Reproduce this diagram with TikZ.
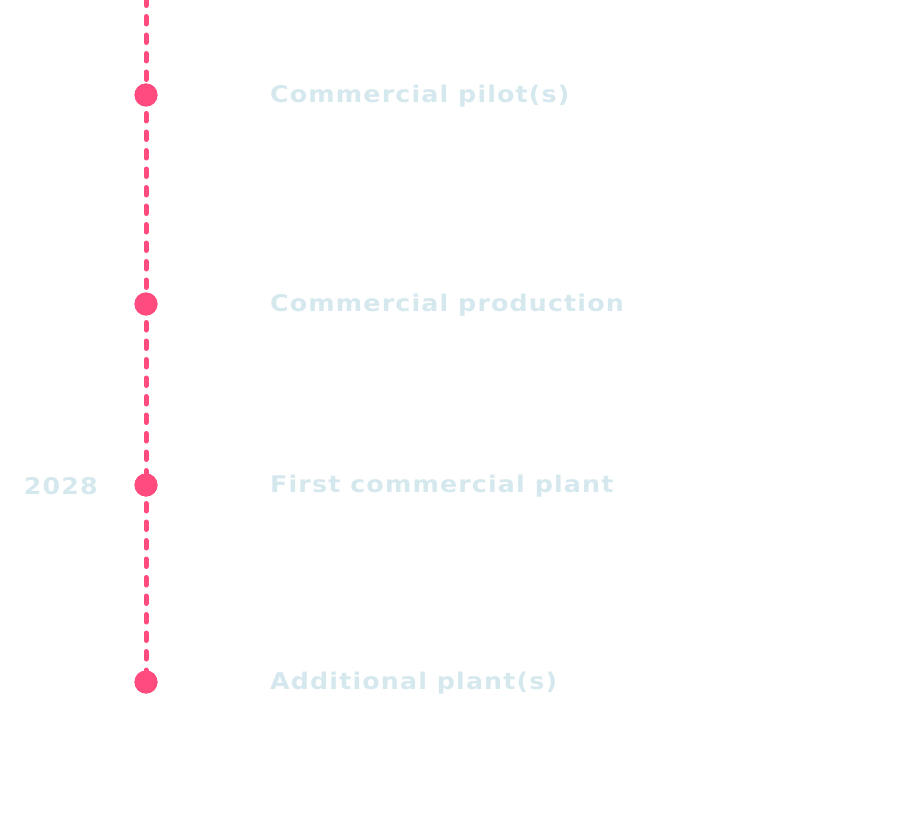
\documentclass[tikz,border=0pt]{standalone}
\usepackage{fontspec}
\newfontfamily\lblfont{DejaVu Sans}[BoldFont={DejaVu Sans Bold},FakeStretch=1.1,LetterSpace=5]
\definecolor{pinkline}{HTML}{FF4B7D}
\definecolor{labelblue}{HTML}{D5E8EE}
\begin{document}
\begin{tikzpicture}[x=1pt,y=-1pt,
  dot/.style={circle,fill=pinkline,inner sep=0pt,minimum size=23pt},
  lbl/.style={anchor=west,inner sep=0pt,text=labelblue,font=\lblfont\fontsize{23}{27}\selectfont\bfseries},
  yr/.style={anchor=east,inner sep=0pt,text=labelblue,font=\lblfont\fontsize{23}{27}\selectfont\bfseries},
  tl/.style={draw=pinkline,line width=5pt,line cap=round,dash pattern=on 7.5pt off 11pt}]
\useasboundingbox (0,0) rectangle (902,824);
\coordinate (top) at (146,-2);
\node[dot] (d1) at (146,95) {};
\node[dot] (d2) at (146,304) {};
\node[dot] (d3) at (146,485) {};
\node[dot] (d4) at (146,682) {};
\draw[tl] (top) -- (d1.center);
\draw[tl] (d1.center) -- (d2.center);
\draw[tl] (d2.center) -- (d3.center);
\draw[tl] (d3.center) -- (d4.center);
\node[dot] at (d1) {};
\node[dot] at (d2) {};
\node[dot] at (d3) {};
\node[dot] at (d4) {};
\node[lbl] (t1) at (270,96) {Commercial pilot(s)};
\node[lbl] (t2) at (270,305) {Commercial production};
\node[lbl] (t3) at (270,486) {First commercial plant};
\node[lbl] (t4) at (270,683) {Additional plant(s)};
\node[yr] (y3) at (98,486) {2028};
\end{tikzpicture}
\end{document}
